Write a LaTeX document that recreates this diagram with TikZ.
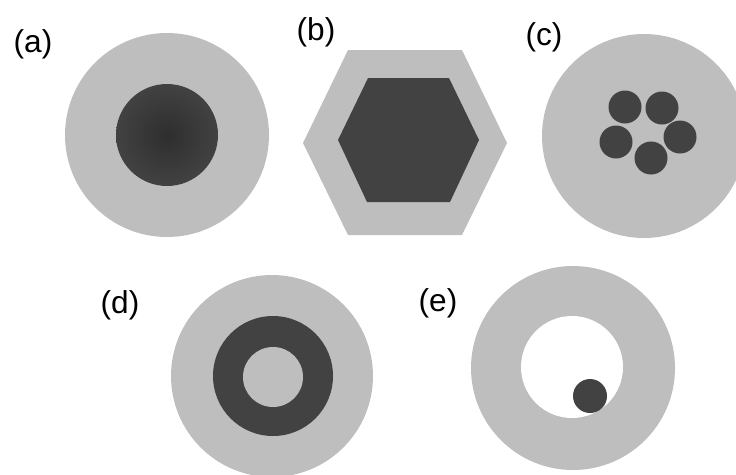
\documentclass[tikz,border=0pt]{standalone}
\usepackage{fontspec}
\setmainfont{Liberation Sans}
\definecolor{shellgray}{RGB}{190,190,190}
\definecolor{coregray}{RGB}{66,66,66}
\tikzset{
  shell/.style={fill=shellgray},
  core/.style={fill=coregray},
  lab/.style={font=\fontsize{18}{20}\selectfont, inner sep=0pt}
}

\begin{document}
\begin{tikzpicture}[x=0.02cm,y=-0.02cm]
            \useasboundingbox (0,0) rectangle (736,474);
            \clip (0,0) rectangle (736,474);
            % (a) solid core
            \fill[shell] (167,135) circle (102);
            \shade[inner color=black!82, outer color=coregray] (167,135) circle (51);
            % (b) hexagonal
            \fill[shell] (303,143) -- (348,50) -- (462,50) -- (507,143) -- (462,235) -- (348,235) -- cycle;
            \fill[core] (338,140) -- (368,78) -- (449,78) -- (479,140) -- (450,202) -- (367,202) -- cycle;
            % (c) multi core
            \fill[shell] (644,136) circle (102);
            \foreach \p in {(625,107),(662,108),(680,137),(651,158),(616,142)}
                \fill[core] \p circle (16.5);
            % (d) ring core
            \fill[shell] (272,376) circle (101);
            \fill[core] (273,376) circle (60);
            \fill[shell] (273,377) circle (30);
            % (e) hollow with small core
            \fill[shell] (573,368) circle (102);
            \fill[white] (572,367) circle (51);
            \fill[core] (590,396) circle (17);
            % labels
            \node[lab] (la) at (33,44) {(a)};
            \node[lab] (lb) at (316,32) {(b)};
            \node[lab] (lc) at (544,37) {(c)};
            \node[lab] (ld) at (120,305) {(d)};
            \node[lab] (le) at (438,303) {(e)};
        \end{tikzpicture}
\end{document}
